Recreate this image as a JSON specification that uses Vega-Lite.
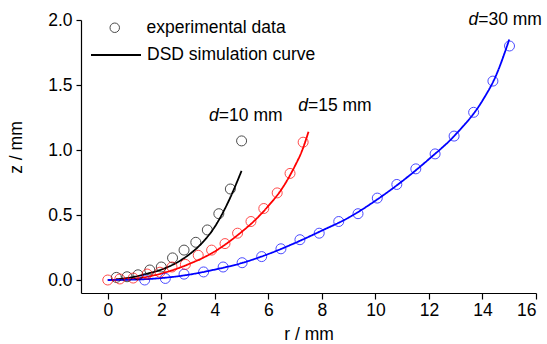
{
  "$schema": "https://vega.github.io/schema/vega-lite/v6.json",
  "width": 455,
  "height": 273,
  "autosize": {"type": "none"},
  "padding": {"left": 81, "top": 20, "right": 11, "bottom": 51},
  "background": "white",
  "config": {
    "view": {"stroke": null},
    "font": "Liberation Sans",
    "axis": {
      "grid": false,
      "domainColor": "black",
      "domainWidth": 1.2,
      "tickColor": "black",
      "tickWidth": 1.2,
      "labelColor": "black",
      "titleColor": "black",
      "labelFont": "Liberation Sans",
      "titleFont": "Liberation Sans",
      "labelFontSize": 17.5,
      "titleFontSize": 17.5,
      "titleFontWeight": "normal"
    },
    "legend": {"labelFont": "Liberation Sans", "labelFontSize": 17.5, "labelColor": "black", "labelLimit": 0}
  },
  "datasets": {
    "pts": [
      {"series": "d10", "r": 0.32, "z": 0.02},
      {"series": "d10", "r": 0.72, "z": 0.025},
      {"series": "d10", "r": 1.13, "z": 0.04},
      {"series": "d10", "r": 1.57, "z": 0.077},
      {"series": "d10", "r": 2.0, "z": 0.1},
      {"series": "d10", "r": 2.42, "z": 0.17},
      {"series": "d10", "r": 2.85, "z": 0.23},
      {"series": "d10", "r": 3.29, "z": 0.29},
      {"series": "d10", "r": 3.72, "z": 0.385},
      {"series": "d10", "r": 4.15, "z": 0.51},
      {"series": "d10", "r": 4.58, "z": 0.7},
      {"series": "d10", "r": 5.0, "z": 1.07},
      {"series": "d30", "r": 1.38, "z": 0.0},
      {"series": "d30", "r": 2.15, "z": 0.012},
      {"series": "d30", "r": 2.85, "z": 0.045},
      {"series": "d30", "r": 3.58, "z": 0.062},
      {"series": "d30", "r": 4.31, "z": 0.1},
      {"series": "d30", "r": 5.02, "z": 0.133},
      {"series": "d30", "r": 5.75, "z": 0.18},
      {"series": "d30", "r": 6.47, "z": 0.24},
      {"series": "d30", "r": 7.18, "z": 0.31},
      {"series": "d30", "r": 7.9, "z": 0.36},
      {"series": "d30", "r": 8.63, "z": 0.45},
      {"series": "d30", "r": 9.35, "z": 0.51},
      {"series": "d30", "r": 10.07, "z": 0.63},
      {"series": "d30", "r": 10.8, "z": 0.735},
      {"series": "d30", "r": 11.51, "z": 0.855},
      {"series": "d30", "r": 12.23, "z": 0.97},
      {"series": "d30", "r": 12.94, "z": 1.107},
      {"series": "d30", "r": 13.67, "z": 1.29},
      {"series": "d30", "r": 14.39, "z": 1.53},
      {"series": "d30", "r": 15.01, "z": 1.8},
      {"series": "d15", "r": 0.0, "z": 0.0},
      {"series": "d15", "r": 0.45, "z": 0.008},
      {"series": "d15", "r": 0.95, "z": 0.015},
      {"series": "d15", "r": 1.47, "z": 0.046},
      {"series": "d15", "r": 1.95, "z": 0.06},
      {"series": "d15", "r": 2.4, "z": 0.1},
      {"series": "d15", "r": 2.9, "z": 0.12},
      {"series": "d15", "r": 3.38, "z": 0.19},
      {"series": "d15", "r": 3.88, "z": 0.23},
      {"series": "d15", "r": 4.38, "z": 0.28},
      {"series": "d15", "r": 4.85, "z": 0.36},
      {"series": "d15", "r": 5.35, "z": 0.45},
      {"series": "d15", "r": 5.83, "z": 0.55},
      {"series": "d15", "r": 6.33, "z": 0.67},
      {"series": "d15", "r": 6.81, "z": 0.82},
      {"series": "d15", "r": 7.3, "z": 1.06}
    ],
    "curves": [
      {"series": "d10", "r": 0.3, "z": 0.005},
      {"series": "d10", "r": 1.0, "z": 0.025},
      {"series": "d10", "r": 1.5, "z": 0.05},
      {"series": "d10", "r": 2.0, "z": 0.08},
      {"series": "d10", "r": 2.5, "z": 0.125},
      {"series": "d10", "r": 3.0, "z": 0.19},
      {"series": "d10", "r": 3.5, "z": 0.28},
      {"series": "d10", "r": 4.0, "z": 0.41},
      {"series": "d10", "r": 4.5, "z": 0.6},
      {"series": "d10", "r": 5.0, "z": 0.84},
      {"series": "d15", "r": 0.0, "z": 0.0},
      {"series": "d15", "r": 1.0, "z": 0.01},
      {"series": "d15", "r": 2.0, "z": 0.05},
      {"series": "d15", "r": 3.0, "z": 0.12},
      {"series": "d15", "r": 4.0, "z": 0.22},
      {"series": "d15", "r": 5.0, "z": 0.37},
      {"series": "d15", "r": 5.5, "z": 0.46},
      {"series": "d15", "r": 6.0, "z": 0.57},
      {"series": "d15", "r": 6.5, "z": 0.7},
      {"series": "d15", "r": 7.0, "z": 0.88},
      {"series": "d15", "r": 7.25, "z": 0.99},
      {"series": "d15", "r": 7.5, "z": 1.14},
      {"series": "d30", "r": 0.0, "z": 0.0},
      {"series": "d30", "r": 1.0, "z": 0.003},
      {"series": "d30", "r": 2.0, "z": 0.015},
      {"series": "d30", "r": 3.0, "z": 0.04},
      {"series": "d30", "r": 4.0, "z": 0.08},
      {"series": "d30", "r": 5.0, "z": 0.13},
      {"series": "d30", "r": 6.0, "z": 0.2},
      {"series": "d30", "r": 7.0, "z": 0.285},
      {"series": "d30", "r": 8.0, "z": 0.38},
      {"series": "d30", "r": 9.0, "z": 0.48},
      {"series": "d30", "r": 10.0, "z": 0.61},
      {"series": "d30", "r": 11.0, "z": 0.76},
      {"series": "d30", "r": 12.0, "z": 0.93},
      {"series": "d30", "r": 13.0, "z": 1.12},
      {"series": "d30", "r": 14.0, "z": 1.38},
      {"series": "d30", "r": 14.5, "z": 1.57},
      {"series": "d30", "r": 15.0, "z": 1.85}
    ],
    "notes": [
      {"series": "d10", "r": 4.15, "z": 1.26, "label": "=10 mm"},
      {"series": "d15", "r": 7.48, "z": 1.34, "label": "=15 mm"},
      {"series": "d30", "r": 13.84, "z": 2.0, "label": "=30 mm"}
    ]
  },
  "layer": [
    {
      "data": {"name": "curves"},
      "mark": {"type": "line", "strokeWidth": 1.8, "interpolate": "monotone"},
      "encoding": {
        "x": {
          "field": "r", "type": "quantitative",
          "scale": {"domain": [-1, 16], "nice": false, "zero": false},
          "axis": {
            "title": "r / mm",
            "values": [0, 1, 2, 3, 4, 5, 6, 7, 8, 9, 10, 11, 12, 13, 14, 15, 16],
            "labelExpr": "datum.value % 2 === 0 ? datum.label : ''",
            "tickSize": {"condition": {"test": "datum.value % 2 === 0", "value": 6}, "value": 3},
            "labelPadding": 2,
            "titlePadding": 7
          }
        },
        "y": {
          "field": "z", "type": "quantitative",
          "scale": {"domain": [-0.1, 2.0], "nice": false, "zero": false},
          "axis": {
            "title": "z / mm",
            "values": [0, 0.25, 0.5, 0.75, 1, 1.25, 1.5, 1.75, 2],
            "format": ".1f",
            "labelExpr": "round(datum.value * 4) % 2 === 0 ? datum.label : ''",
            "tickSize": {"condition": {"test": "round(datum.value * 4) % 2 === 0", "value": 5}, "value": 3},
            "labelPadding": 4,
            "titlePadding": 22,
            "titleY": 127
          }
        },
        "color": {
          "field": "series", "type": "nominal",
          "scale": {"domain": ["d10", "d15", "d30"], "range": ["#000000", "#ff0000", "#0000ff"]},
          "legend": null
        },
        "strokeDash": {
          "datum": "DSD simulation curve",
          "scale": {"range": [[1, 0]]},
          "legend": {
            "title": null, "orient": "none", "legendX": 9, "legendY": 9,
            "symbolType": "stroke", "symbolSize": 2500, "symbolStrokeWidth": 1.8,
            "symbolStrokeColor": "black", "labelOffset": 5, "padding": 0, "labelLimit": 0
          }
        }
      }
    },
    {
      "data": {"name": "pts"},
      "mark": {"type": "point", "shape": "circle", "filled": false, "size": 100, "strokeWidth": 1},
      "encoding": {
        "x": {"field": "r", "type": "quantitative"},
        "y": {"field": "z", "type": "quantitative"},
        "color": {"field": "series", "type": "nominal", "legend": null},
        "shape": {
          "datum": "experimental data",
          "scale": {"range": ["circle"]},
          "legend": {
            "title": null, "orient": "none", "legendX": 25, "legendY": -1,
            "symbolSize": 90, "symbolStrokeWidth": 1, "symbolStrokeColor": "black",
            "labelOffset": 23, "padding": 0, "labelLimit": 0
          }
        }
      }
    },
    {
      "data": {"name": "notes"},
      "mark": {"type": "text", "text": "d", "fontStyle": "italic", "align": "right", "baseline": "middle", "fontSize": 17.5, "color": "black"},
      "encoding": {
        "x": {"field": "r", "type": "quantitative"},
        "y": {"field": "z", "type": "quantitative"}
      }
    },
    {
      "data": {"name": "notes"},
      "mark": {"type": "text", "align": "left", "baseline": "middle", "fontSize": 17.5, "color": "black"},
      "encoding": {
        "x": {"field": "r", "type": "quantitative"},
        "y": {"field": "z", "type": "quantitative"},
        "text": {"field": "label"}
      }
    }
  ]
}
